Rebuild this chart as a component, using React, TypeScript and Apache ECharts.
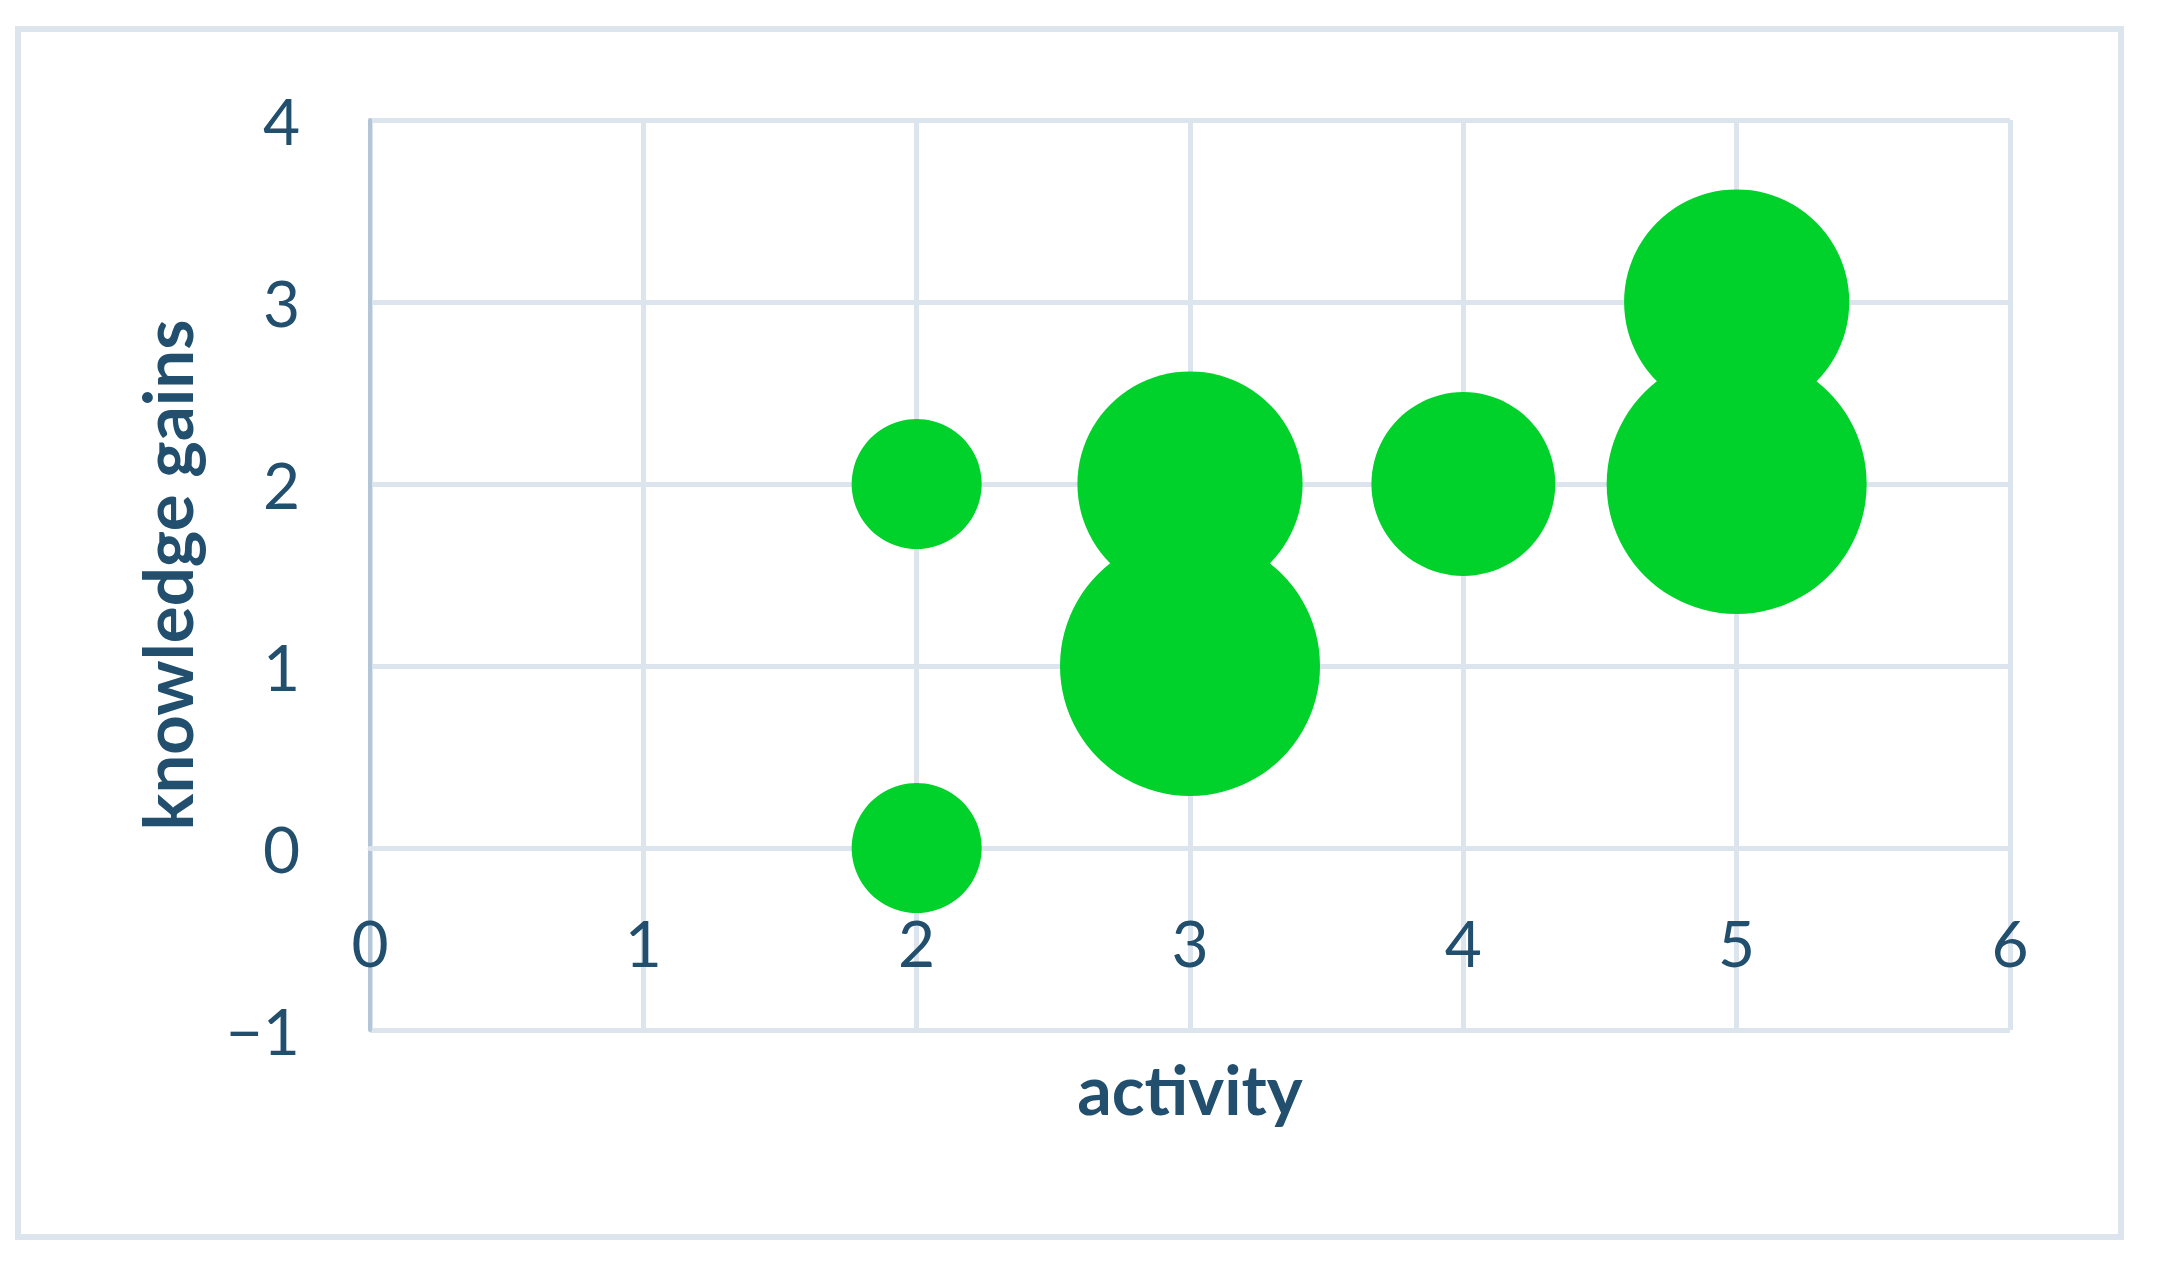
import React, { useEffect, useRef } from "react";
import * as echarts from "echarts";

// activity (x), knowledge gains (y), bubble size
const activity = [2, 2, 3, 3, 4, 5, 5];
const knowledgeGains = [2, 0, 2, 1, 2, 3, 2];
const bubbleSize = [1, 1, 3, 4, 2, 3, 4];

const xTicks = [0, 1, 2, 3, 4, 5, 6];
const yTicks = [-1, 0, 1, 2, 3, 4];

const xTitle = "activity";
const yTitle = "knowledge gains";

export default function App() {
  const ref = useRef<HTMLDivElement>(null);

  useEffect(() => {
    if (!ref.current) return;
    const chart = echarts.init(ref.current, undefined, { renderer: "svg" });
    const textColor = "#214f6d";
    const gridColor = "#dce5ed";
    const font = "Lato";
    const data = activity.map((x, i) => [x, knowledgeGains[i], bubbleSize[i]]);
    const plotHeight = 910;
    // the horizontal axis crosses the vertical one at y = 0 (one step above the minimum)
    const yStep = plotHeight / (yTicks[yTicks.length - 1] - yTicks[0]);
    const crossOffset = -(0 - yTicks[0]) * yStep;

    chart.setOption({
      animation: false,
      backgroundColor: "#ffffff",
      graphic: [
        {
          type: "rect",
          shape: { x: 18, y: 29, width: 2103, height: 1208 },
          style: { fill: "none", stroke: gridColor, lineWidth: 6 },
          silent: true,
          z: -10,
        },
      ],
      grid: {
        left: 370,
        top: 120,
        width: 1640,
        height: plotHeight,
        containLabel: false,
        outerBoundsMode: "none",
      },
      xAxis: {
        type: "value",
        position: "bottom",
        offset: crossOffset,
        min: xTicks[0],
        max: xTicks[xTicks.length - 1],
        interval: 1,
        name: xTitle,
        nameLocation: "middle",
        nameGap: 206,
        nameTextStyle: { color: textColor, fontFamily: font, fontWeight: "bold", fontSize: 68 },
        axisLine: { show: true, onZero: false, lineStyle: { color: gridColor, width: 5 } },
        axisTick: { show: false },
        axisLabel: { color: textColor, fontFamily: font, fontSize: 64, margin: 62 },
        splitLine: { show: true, lineStyle: { color: gridColor, width: 5 } },
      },
      yAxis: {
        type: "value",
        min: yTicks[0],
        max: yTicks[yTicks.length - 1],
        interval: 1,
        name: yTitle,
        nameLocation: "middle",
        nameGap: 169,
        nameTextStyle: { color: textColor, fontFamily: font, fontWeight: "bold", fontSize: 69 },
        axisLine: { show: true, onZero: false, lineStyle: { color: "#b3c6d8", width: 4 } },
        axisTick: { show: false },
        axisLabel: {
          color: textColor,
          fontFamily: font,
          fontSize: 64,
          margin: 70,
          formatter: (v: number) => (v < 0 ? "\u2212" + Math.abs(v) : String(v)),
        },
        splitLine: { show: true, lineStyle: { color: gridColor, width: 5 } },
      },
      series: [
        {
          type: "scatter",
          data,
          symbolSize: (v: number[]) => 130 * Math.sqrt(v[2]),
          itemStyle: { color: "#00d12b", opacity: 1 },
          emphasis: { disabled: true },
        },
      ],
    });
    return () => chart.dispose();
  }, []);

  return (
    <div
      ref={ref}
      style={{ position: "absolute", left: 0, top: 0, width: 2166, height: 1273, background: "#fff" }}
    />
  );
}
